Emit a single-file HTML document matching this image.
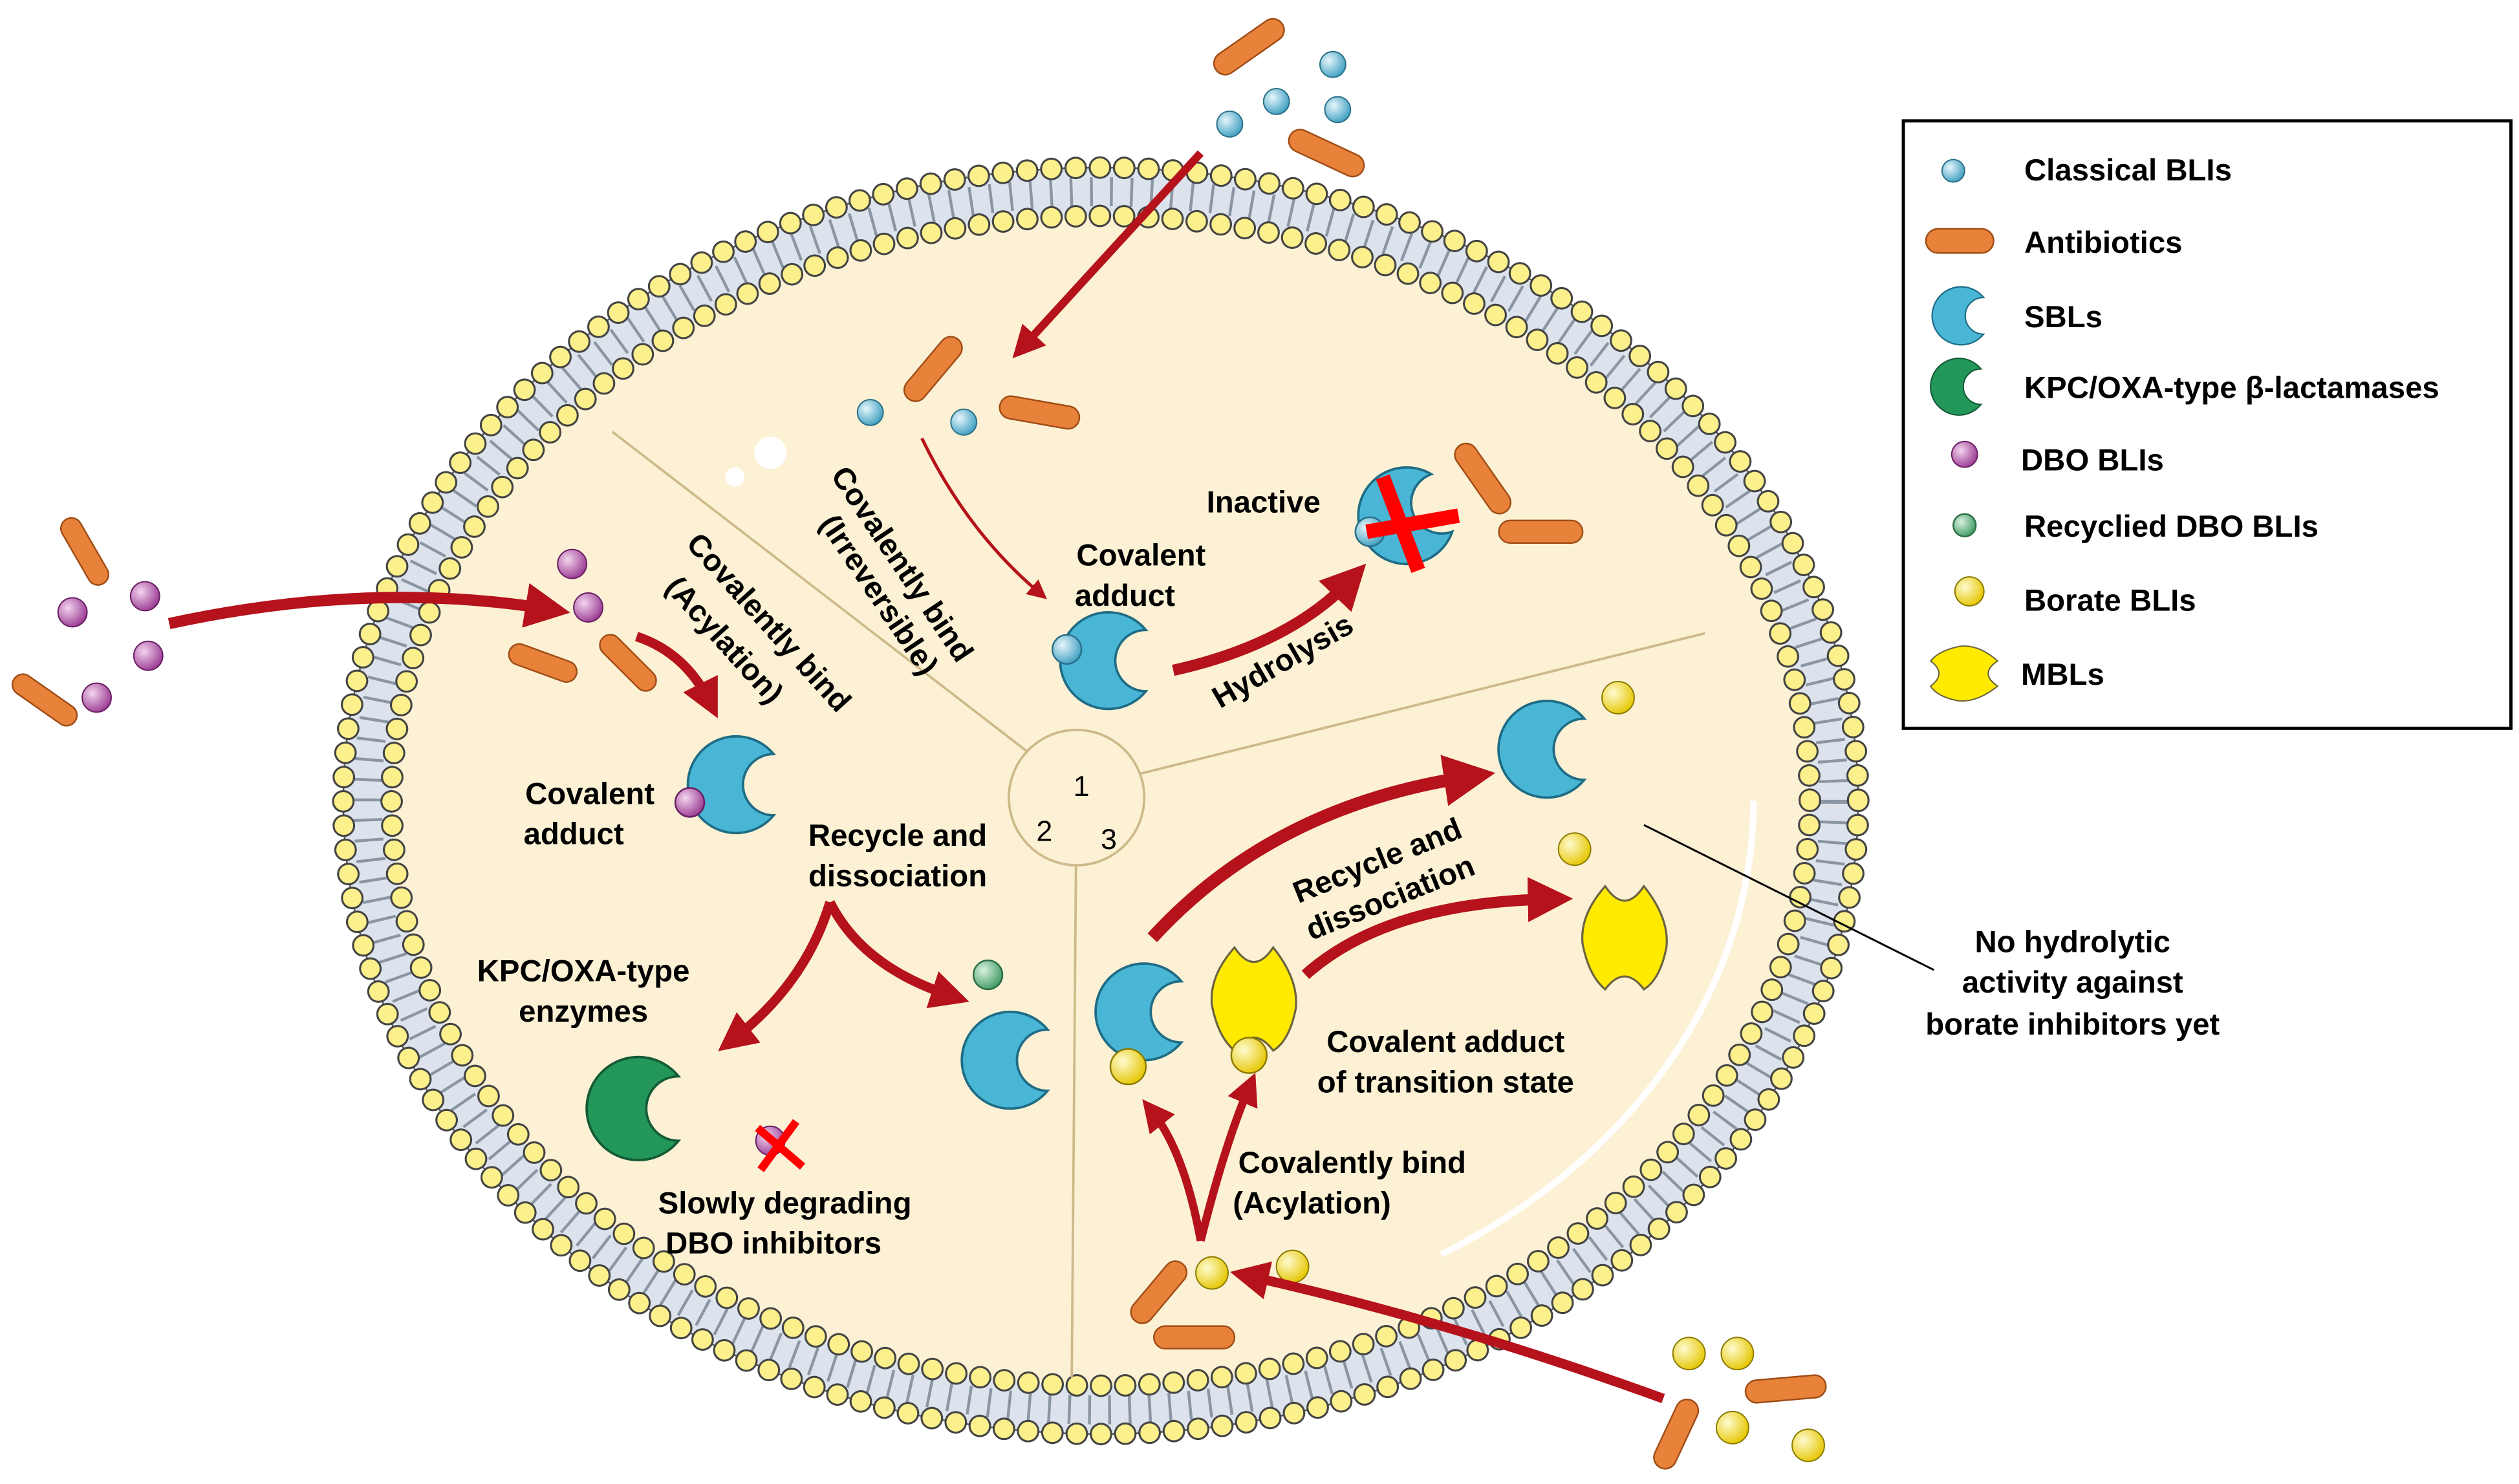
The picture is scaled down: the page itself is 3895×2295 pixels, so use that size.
<!DOCTYPE html>
<html><head><meta charset="utf-8"><style>html,body{margin:0;padding:0;background:#fff}svg{display:block}</style></head>
<body>
<svg width="3895" height="2295" viewBox="0 0 1563 921" preserveAspectRatio="none" xmlns="http://www.w3.org/2000/svg" font-family="Liberation Sans, Arial, sans-serif" font-weight="bold">
<defs>
<marker id="ah" viewBox="0 0 10 10" refX="5" refY="5" markerWidth="4" markerHeight="4" orient="auto"><path d="M0,0 L10,5 L0,10 z" fill="#b5121b"/></marker>
<marker id="ahs" viewBox="0 0 10 10" refX="5" refY="5" markerWidth="6" markerHeight="6" orient="auto"><path d="M0,0 L10,5 L0,10 z" fill="#b5121b"/></marker>
<g id="sbl"><path d="M23,-19 A30,30 0 1 0 23,19 A13,13 0 0 1 23,-19 Z" fill="#49b6d6" stroke="#1f6c85" stroke-width="1.5"/></g>
<g id="kpc"><path d="M24,-20 A32,32 0 1 0 24,20 A14,14 0 0 1 24,-20 Z" fill="#23965a" stroke="#145a35" stroke-width="1.5"/></g>
<g id="mbl"><path d="M-12,-30 Q0,-12 12,-30 Q28,-10 26,8 Q22,28 12,34 Q0,18 -12,34 Q-22,26 -26,6 Q-28,-12 -12,-30 Z" fill="#ffea00" stroke="#6d6440" stroke-width="1.3"/></g>
<radialGradient id="gb" cx="0.35" cy="0.35" r="0.7"><stop offset="0" stop-color="#e6f6fb"/><stop offset="1" stop-color="#3d9ec0"/></radialGradient>
<radialGradient id="gp" cx="0.35" cy="0.35" r="0.7"><stop offset="0" stop-color="#f2d4ee"/><stop offset="1" stop-color="#9a3a92"/></radialGradient>
<radialGradient id="gy" cx="0.35" cy="0.35" r="0.7"><stop offset="0" stop-color="#fffbd0"/><stop offset="1" stop-color="#e5c600"/></radialGradient>
<radialGradient id="gg" cx="0.35" cy="0.35" r="0.7"><stop offset="0" stop-color="#d8f0e0"/><stop offset="1" stop-color="#3f9a63"/></radialGradient>
</defs>
<rect width="1563" height="921" fill="#fff"/>
<!-- membrane -->
<ellipse cx="683" cy="497" rx="470" ry="393" fill="#dde3ec" stroke="#555" stroke-width="1"/>
<ellipse cx="683" cy="497" rx="455" ry="378" fill="none" stroke="#8a96a3" stroke-width="18" stroke-dasharray="1 6" pathLength="1470"/>
<ellipse cx="683" cy="497" rx="470" ry="393" fill="none" stroke="#444" stroke-width="14" stroke-linecap="round" stroke-dasharray="0 1" pathLength="180"/>
<ellipse cx="683" cy="497" rx="470" ry="393" fill="none" stroke="#fbf08c" stroke-width="11.5" stroke-linecap="round" stroke-dasharray="0 1" pathLength="180"/>
<ellipse cx="683" cy="497" rx="440" ry="363" fill="#fcf1d4"/>
<ellipse cx="683" cy="497" rx="440" ry="363" fill="none" stroke="#444" stroke-width="14" stroke-linecap="round" stroke-dasharray="0 1" pathLength="168"/>
<ellipse cx="683" cy="497" rx="440" ry="363" fill="none" stroke="#fbf08c" stroke-width="11.5" stroke-linecap="round" stroke-dasharray="0 1" pathLength="168"/>
<ellipse cx="683" cy="497" rx="420" ry="343" fill="#fcf1d4"/>
<ellipse cx="683" cy="497" rx="405" ry="330" fill="none" stroke="#fff" stroke-width="4" stroke-dasharray="60 0 300 2000" />
<circle cx="478" cy="281" r="10" fill="#fff"/><circle cx="456" cy="296" r="6" fill="#fff"/>
<!-- dividers -->
<g stroke="#cdb98a" stroke-width="1.5" fill="none">
<line x1="668" y1="490" x2="380" y2="268"/><line x1="668" y1="490" x2="1058" y2="393"/><line x1="668" y1="490" x2="665" y2="855"/>
<circle cx="668" cy="495" r="42" fill="#fcf1d4"/>
</g>
<g font-weight="normal" font-size="18" fill="#000"><text x="666" y="494">1</text><text x="643" y="522">2</text><text x="683" y="527">3</text></g>
<!-- rods -->
<g fill="#e8823a" stroke="#a04d17" stroke-width="1">
<rect x="750" y="22" width="50" height="14" rx="7" transform="rotate(-35 775 29)"/>
<rect x="798" y="88" width="50" height="14" rx="7" transform="rotate(25 823 95)"/>
<rect x="555" y="222" width="48" height="14" rx="7" transform="rotate(-50 579 229)"/>
<rect x="620" y="249" width="50" height="14" rx="7" transform="rotate(10 645 256)"/>
<rect x="895" y="290" width="50" height="14" rx="7" transform="rotate(55 920 297)"/>
<rect x="930" y="323" width="52" height="14" rx="7"/>
<rect x="30" y="336" width="46" height="13" rx="6.5" transform="rotate(60 53 342)"/>
<rect x="5" y="428" width="46" height="13" rx="6.5" transform="rotate(35 28 434)"/>
<rect x="315" y="405" width="44" height="13" rx="6.5" transform="rotate(20 337 411)"/>
<rect x="368" y="405" width="44" height="13" rx="6.5" transform="rotate(45 390 411)"/>
<rect x="696" y="795" width="46" height="14" rx="7" transform="rotate(-50 719 802)"/>
<rect x="716" y="823" width="50" height="14" rx="7"/>
<rect x="1083" y="855" width="50" height="14" rx="7" transform="rotate(-5 1108 862)"/>
<rect x="1017" y="883" width="46" height="14" rx="7" transform="rotate(-65 1040 890)"/>
<rect x="1195" y="142" width="42" height="15" rx="7.5"/>
</g>
<g stroke="#2a6f88" stroke-width="0.8" fill="url(#gb)">
<circle cx="827" cy="40" r="8"/><circle cx="792" cy="63" r="8"/><circle cx="830" cy="68" r="8"/><circle cx="763" cy="77" r="8"/>
<circle cx="540" cy="256" r="8"/><circle cx="598" cy="262" r="8"/>
<circle cx="1212" cy="106" r="7"/>
</g>
<path d="M745,95 L635,215" stroke="#b5121b" stroke-width="5" marker-end="url(#ah)"/>
<path d="M572,272 Q600,330 645,368" stroke="#b5121b" stroke-width="2" fill="none" marker-end="url(#ahs)"/>
<text font-size="19" transform="translate(515,295) rotate(56)">Covalently bind</text>
<text font-size="19" transform="translate(508,325) rotate(56)">(Irreversible)</text>
<text x="708" y="351" font-size="19" text-anchor="middle">Covalent</text>
<text x="698" y="376" font-size="19" text-anchor="middle">adduct</text>
<use href="#sbl" x="688" y="410"/>
<circle cx="662" cy="403" r="9" fill="url(#gb)" stroke="#2a6f88"/>
<path d="M728,416 Q800,400 838,360" stroke="#b5121b" stroke-width="7" fill="none" marker-end="url(#ah)"/>
<text font-size="19" transform="translate(757,440) rotate(-30)">Hydrolysis</text>
<text x="784" y="318" font-size="19" text-anchor="middle">Inactive</text>
<g transform="translate(873 320) rotate(-20)"><use href="#sbl"/></g>
<circle cx="850" cy="330" r="9" fill="url(#gb)" stroke="#2a6f88"/>
<g stroke="#ff0000" stroke-width="9"><line x1="858" y1="296" x2="880" y2="354"/><line x1="848" y1="330" x2="905" y2="320"/></g>
<!-- left -->
<g stroke="#6a1f66" stroke-width="0.8" fill="url(#gp)">
<circle cx="45" cy="380" r="9"/><circle cx="90" cy="370" r="9"/><circle cx="92" cy="407" r="9"/><circle cx="60" cy="433" r="9"/>
<circle cx="355" cy="350" r="9"/><circle cx="365" cy="377" r="9"/><circle cx="478" cy="708" r="9"/>
<circle cx="1219" cy="282" r="8"/>
</g>
<path d="M105,387 Q230,360 340,378" stroke="#b5121b" stroke-width="7" fill="none" marker-end="url(#ah)"/>
<path d="M395,395 Q425,405 440,435" stroke="#b5121b" stroke-width="6" fill="none" marker-end="url(#ah)"/>
<text font-size="19" transform="translate(425,338) rotate(48)">Covalently bind</text>
<text font-size="19" transform="translate(412,365) rotate(48)">(Acylation)</text>
<use href="#sbl" x="457" y="487"/>
<circle cx="428" cy="498" r="9" fill="url(#gp)" stroke="#6a1f66"/>
<text x="366" y="499" font-size="19" text-anchor="middle">Covalent</text>
<text x="356" y="524" font-size="19" text-anchor="middle">adduct</text>
<text x="557" y="525" font-size="19" text-anchor="middle">Recycle and</text>
<text x="557" y="550" font-size="19" text-anchor="middle">dissociation</text>
<path d="M515,560 Q535,600 590,618" stroke="#b5121b" stroke-width="6" fill="none" marker-end="url(#ah)"/>
<path d="M515,560 Q500,610 455,645" stroke="#b5121b" stroke-width="6" fill="none" marker-end="url(#ah)"/>
<text x="362" y="609" font-size="19" text-anchor="middle">KPC/OXA-type</text>
<text x="362" y="634" font-size="19" text-anchor="middle">enzymes</text>
<use href="#kpc" x="397" y="688"/>
<g stroke="#ff0000" stroke-width="5"><line x1="470" y1="700" x2="498" y2="724"/><line x1="472" y1="726" x2="494" y2="696"/></g>
<text x="487" y="753" font-size="19" text-anchor="middle">Slowly degrading</text>
<text x="480" y="778" font-size="19" text-anchor="middle">DBO inhibitors</text>
<circle cx="613" cy="605" r="9" fill="url(#gg)" stroke="#2c6d44"/>
<use href="#sbl" x="627" y="658"/>
<!-- right -->
<use href="#sbl" x="960" y="465"/>
<g stroke="#8a7a00" stroke-width="0.8" fill="url(#gy)">
<circle cx="1004" cy="433" r="10"/><circle cx="977" cy="527" r="10"/>
<circle cx="752" cy="790" r="10"/><circle cx="802" cy="786" r="10"/>
<circle cx="1048" cy="840" r="10"/><circle cx="1078" cy="840" r="10"/><circle cx="1075" cy="886" r="10"/><circle cx="1122" cy="897" r="10"/>
<circle cx="1222" cy="367" r="9"/>
</g>
<use href="#mbl" x="1008" y="580"/>
<path d="M715,582 Q790,500 912,482" stroke="#b5121b" stroke-width="8" fill="none" marker-end="url(#ah)"/>
<path d="M810,605 Q860,560 962,558" stroke="#b5121b" stroke-width="7" fill="none" marker-end="url(#ah)"/>
<text font-size="19" text-anchor="middle" transform="translate(857,540) rotate(-22)">Recycle and</text>
<text font-size="19" text-anchor="middle" transform="translate(865,563) rotate(-22)">dissociation</text>
<use href="#sbl" x="710" y="628"/>
<circle cx="700" cy="662" r="11" fill="url(#gy)" stroke="#8a7a00"/>
<use href="#mbl" x="778" y="618"/>
<circle cx="775" cy="655" r="11" fill="url(#gy)" stroke="#8a7a00"/>
<text x="897" y="653" font-size="19" text-anchor="middle">Covalent adduct</text>
<text x="897" y="678" font-size="19" text-anchor="middle">of transition state</text>
<text x="839" y="728" font-size="19" text-anchor="middle">Covalently bind</text>
<text x="814" y="753" font-size="19" text-anchor="middle">(Acylation)</text>
<path d="M745,770 Q735,715 715,690" stroke="#b5121b" stroke-width="5" fill="none" marker-end="url(#ah)"/>
<path d="M745,770 Q760,710 775,675" stroke="#b5121b" stroke-width="5" fill="none" marker-end="url(#ah)"/>
<path d="M1032,868 Q900,820 775,792" stroke="#b5121b" stroke-width="6" fill="none" marker-end="url(#ah)"/>
<line x1="1020" y1="512" x2="1200" y2="602" stroke="#000" stroke-width="1.2"/>
<text x="1286" y="591" font-size="19" text-anchor="middle">No hydrolytic</text>
<text x="1286" y="616" font-size="19" text-anchor="middle">activity against</text>
<text x="1286" y="642" font-size="19" text-anchor="middle">borate inhibitors yet</text>
<!-- legend -->
<rect x="1181" y="75" width="377" height="377" fill="none" stroke="#000" stroke-width="2"/>
<g transform="translate(1217 196) scale(0.6)"><use href="#sbl"/></g>
<g transform="translate(1216 240) scale(0.55)"><use href="#kpc"/></g>
<circle cx="1219" cy="326" r="7" fill="url(#gg)" stroke="#2c6d44"/>
<g transform="translate(1220 418) rotate(90) scale(0.65)"><use href="#mbl"/></g>
<g font-size="19">
<text x="1256" y="112">Classical BLIs</text>
<text x="1256" y="157">Antibiotics</text>
<text x="1256" y="203">SBLs</text>
<text x="1256" y="247">KPC/OXA-type β-lactamases</text>
<text x="1254" y="292">DBO BLIs</text>
<text x="1256" y="333">Recyclied DBO BLIs</text>
<text x="1256" y="379">Borate BLIs</text>
<text x="1254" y="425">MBLs</text>
</g>
</svg>
</body></html>
